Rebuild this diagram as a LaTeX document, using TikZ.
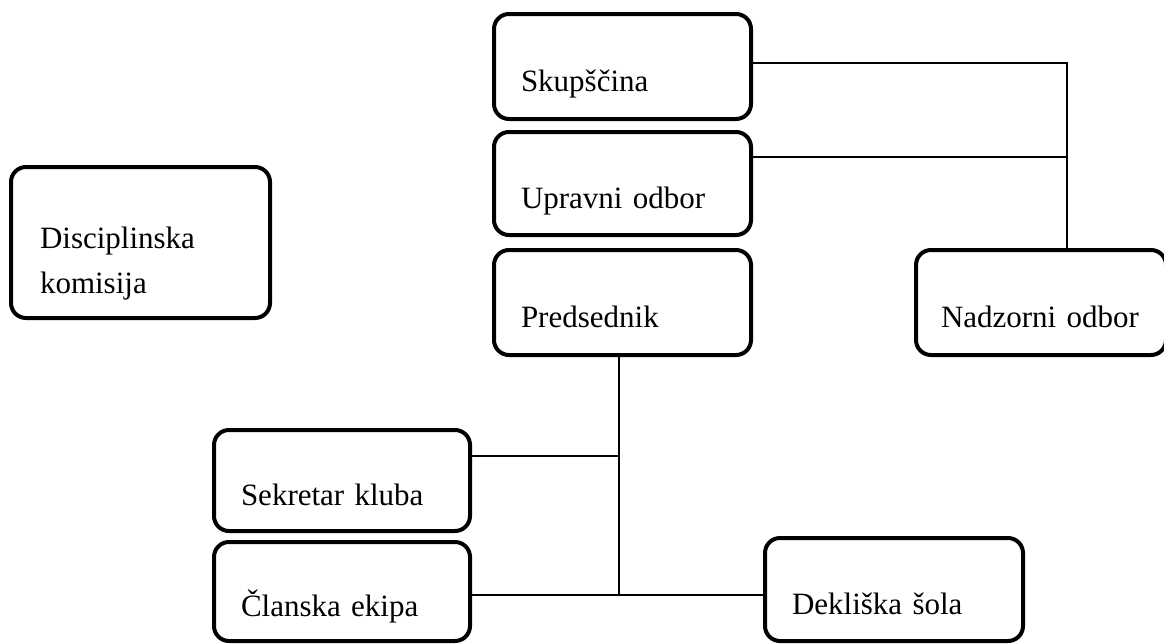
\documentclass[tikz,border=0pt]{standalone}
\usepackage{fontspec}
\setmainfont{Liberation Serif}
\begin{document}
\begin{tikzpicture}[x=1pt,y=-1pt,
   every node/.style={font=\fontsize{31}{45}\selectfont},
   unit/.style={draw,line width=4pt,rounded corners=15pt,inner xsep=27pt,inner ysep=0pt,
                align=left,text height=50pt,text depth=0pt},
   link/.style={line width=1.5pt}]
   \useasboundingbox (0,0) rectangle (1164,643);
   \clip (0,0) rectangle (1164,643);
   \node [unit,text width=203pt,minimum height=105pt] (skup) at (622.5,66.5) {Skupščina};
   \node [unit,text width=203pt,minimum height=103pt] (uprav) at (622.5,183.5) {Upravni odbor};
   \node [unit,text width=203pt,minimum height=105pt] (pred) at (622.5,302.5) {Predsednik};
   \node [unit,inner xsep=25pt,text width=200pt,minimum height=105pt] (nadz) at (1041,302.5) {Nadzorni odbor};
   \node [unit,inner xsep=29pt,text width=201pt,minimum height=151pt,text depth=39pt] (disc) at (140.5,242.5) {Disciplinska\\komisija};
   \node [unit,text width=202pt,minimum height=101pt] (sekr) at (342,480.5) {Sekretar kluba};
   \node [unit,text width=202pt,minimum height=99pt] (clan) at (342,591.5) {Članska ekipa};
   \node [unit,text width=204pt,minimum height=103pt] (dekl) at (894,589.5) {Dekliška šola};
   \coordinate (nadzJ) at (1067,63);
   \coordinate (upravJ) at (1067,157);
   \coordinate (sekrJ) at (619,456);
   \coordinate (predJ) at (619,595);
   \draw [link] (nadzJ -| skup.east) -- (nadzJ) -- (nadzJ |- nadz.north);
   \draw [link] (upravJ -| uprav.east) -- (upravJ);
   \draw [link] (predJ |- pred.south) -- (predJ);
   \draw [link] (sekrJ -| sekr.east) -- (sekrJ);
   \draw [link] (predJ -| clan.east) -- (predJ -| dekl.west);
\end{tikzpicture}
\end{document}
